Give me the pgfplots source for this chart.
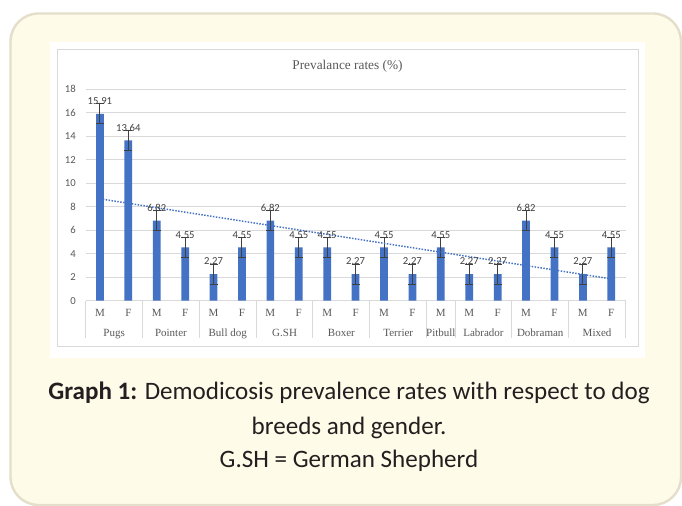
\documentclass[border=0pt]{standalone}
\usepackage{pgfplots}
\pgfplotsset{compat=1.18}
\usepackage{pgfplotstable}
\usepackage{fontspec}
\setmainfont{Liberation Serif}
\newfontfamily\calib{Carlito}
\definecolor{barblue}{HTML}{4472C4}
\definecolor{gridgray}{HTML}{D9D9D9}
\definecolor{txtgray}{HTML}{595959}
\definecolor{lblgray}{HTML}{404040}
\definecolor{cream}{HTML}{FEFBE9}
\definecolor{creamborder}{HTML}{E4DECB}
\definecolor{captxt}{HTML}{231F20}

\pgfplotstableread{
x y lab
0 15.91 15.91
1 13.64 13.64
2 6.82 6.82
3 4.55 4.55
4 2.27 2.27
5 4.55 4.55
6 6.82 6.82
7 4.55 4.55
8 4.55 4.55
9 2.27 2.27
10 4.55 4.55
11 2.27 2.27
12 4.55 4.55
13 2.27 2.27
14 2.27 2.27
15 6.82 6.82
16 4.55 4.55
17 2.27 2.27
18 4.55 4.55
}\datatab

\begin{document}
\begin{tikzpicture}
\begin{scope}[x=0.75pt,y=-0.75pt,yshift=379.5pt]
\useasboundingbox (0,0) rectangle (682,506);
\fill[white] (0,0) rectangle (682,506);
\draw[creamborder, fill=cream, line width=1.8pt, rounded corners=21pt] (10.5,13.5) rectangle (681,505);
\fill[white] (50,42) rectangle (645,358);
\draw[gridgray, line width=0.75pt] (57.5,49.5) rectangle (638.5,346.5);
\node[font=\fontsize{10}{12}\selectfont, text=txtgray] at (347.5,66.7) {Prevalance rates (\%)};
\node[font=\calib\fontsize{18.8}{22}\selectfont, text=captxt] at (349,393) {\textbf{Graph 1:} Demodicosis prevalence rates with respect to dog};
\node[font=\calib\fontsize{18.8}{22}\selectfont, text=captxt] at (349,428) {breeds and gender.};
\node[font=\calib\fontsize{18.8}{22}\selectfont, text=captxt] at (349,461) {G.SH = German Shepherd};
\end{scope}
\begin{axis}[
  at={(64.275pt,153.975pt)}, anchor=south west,
  scale only axis, width=404.85pt, height=158.55pt,
  xmin=-0.5, xmax=18.5, ymin=0, ymax=18,
  axis line style={draw=none},
  ymajorgrids, grid style={draw=gridgray, line width=0.75pt},
  major tick length=0pt,
  xtick pos=lower, ytick pos=left,
  ytick={0,2,...,18},
  /pgf/number format/assume math mode=true,
  yticklabel style={font=\calib\fontsize{8}{9.6}\selectfont, text=txtgray, anchor=east, inner sep=0pt, xshift=-7.3pt},
  xtick={0,1,...,18},
  xticklabels={M,F,M,F,M,F,M,F,M,F,M,F,M,M,F,M,F,M,F},
  xticklabel style={font=\fontsize{8.25}{9.9}\selectfont, text=txtgray, anchor=base, inner sep=0pt, yshift=-12.2pt},
  extra x ticks={-0.5,1.5,3.5,5.5,7.5,9.5,11.5,12.5,14.5,16.5,18.5},
  extra x tick labels={},
  extra x tick style={major tick length=28pt, tick align=outside, major tick style={draw=gridgray, line width=0.75pt}, grid=none},
  clip=false,
]
\addplot[ybar, bar width=5.8pt, fill=barblue, draw=none,
  nodes near coords, point meta=explicit symbolic,
  every node near coord/.append style={font=\calib\fontsize{8}{9.6}\selectfont, text=lblgray, anchor=south, inner sep=0pt, yshift=6.6pt},
  error bars/.cd, y dir=both, y fixed=0.85,
  error bar style={lblgray, line width=0.75pt},
  error mark options={lblgray, rotate=90, mark size=3pt, line width=0.75pt}]
  table[x=x, y=y, meta=lab] {\datatab};
\addplot[barblue, line width=1.1pt, dash pattern=on 1.1pt off 1.1pt] coordinates {(0,8.675) (18,1.855)};
\node[font=\fontsize{8.25}{9.9}\selectfont, text=txtgray, anchor=base, yshift=-27.2pt] at (axis cs:0.5,0) {Pugs};
\node[font=\fontsize{8.25}{9.9}\selectfont, text=txtgray, anchor=base, yshift=-27.2pt] at (axis cs:2.5,0) {Pointer};
\node[font=\fontsize{8.25}{9.9}\selectfont, text=txtgray, anchor=base, yshift=-27.2pt] at (axis cs:4.5,0) {Bull dog};
\node[font=\fontsize{8.25}{9.9}\selectfont, text=txtgray, anchor=base, yshift=-27.2pt] at (axis cs:6.5,0) {G.SH};
\node[font=\fontsize{8.25}{9.9}\selectfont, text=txtgray, anchor=base, yshift=-27.2pt] at (axis cs:8.5,0) {Boxer};
\node[font=\fontsize{8.25}{9.9}\selectfont, text=txtgray, anchor=base, yshift=-27.2pt] at (axis cs:10.5,0) {Terrier};
\node[font=\fontsize{8.25}{9.9}\selectfont, text=txtgray, anchor=base, yshift=-27.2pt] at (axis cs:12,0) {Pitbull};
\node[font=\fontsize{8.25}{9.9}\selectfont, text=txtgray, anchor=base, yshift=-27.2pt] at (axis cs:13.5,0) {Labrador};
\node[font=\fontsize{8.25}{9.9}\selectfont, text=txtgray, anchor=base, yshift=-27.2pt] at (axis cs:15.5,0) {Dobraman};
\node[font=\fontsize{8.25}{9.9}\selectfont, text=txtgray, anchor=base, yshift=-27.2pt] at (axis cs:17.5,0) {Mixed};
\end{axis}
\end{tikzpicture}
\end{document}
